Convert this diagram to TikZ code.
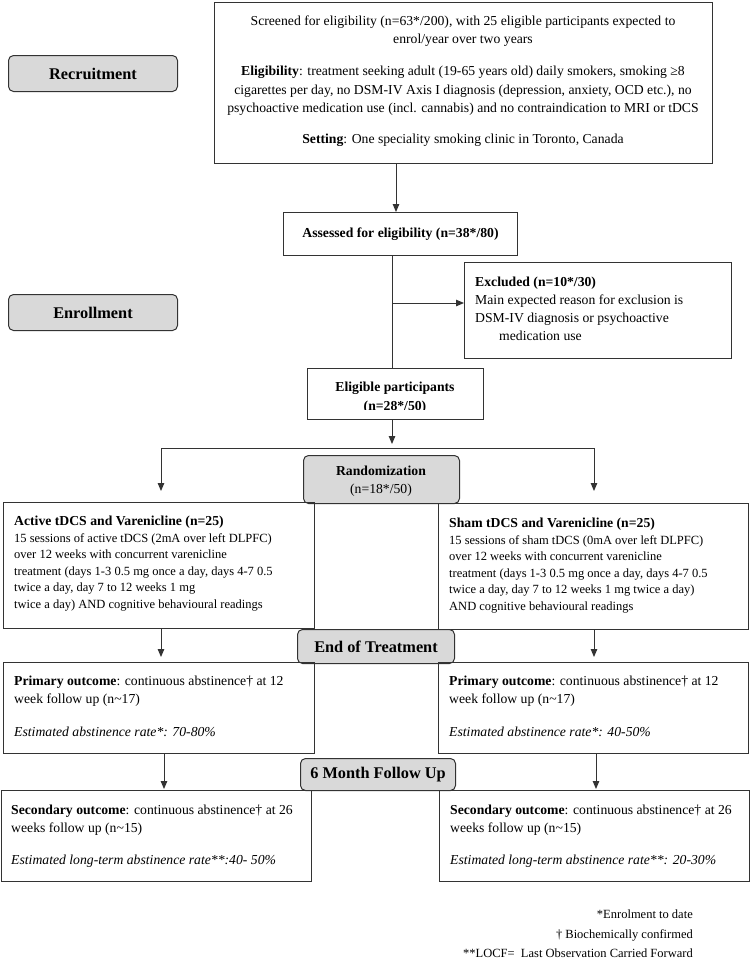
\documentclass[tikz,border=0pt]{standalone}
\usepackage{fontspec}
\setmainfont{Liberation Serif}
\usetikzlibrary{arrows.meta}
\definecolor{linec}{HTML}{333333}
\definecolor{grayf}{HTML}{D9D9D9}
\newcommand\fmain{\fontsize{13.7}{17}\selectfont}
\newcommand\fsmall{\fontsize{12.5}{15}\selectfont}
\newcommand\fbig{\fontsize{16.3}{19}\selectfont\bfseries}
\begin{document}
\begin{tikzpicture}[x=1pt,y=-1pt,
  box/.style={draw=linec, line width=1pt, inner sep=0pt, anchor=north west},
  phase/.style={box, fill=grayf, rounded corners=5pt},
  txt/.style={inner sep=0pt, anchor=base west, font=\fmain},
  ctxt/.style={inner sep=0pt, anchor=base, font=\fmain},
  stxt/.style={inner sep=0pt, anchor=base west, font=\fsmall},
  ftxt/.style={inner sep=0pt, anchor=base east, font=\fsmall},
  conn/.style={draw=linec, line width=1pt},
  arr/.style={conn, -{Triangle[length=8pt,width=6.5pt]}}]
\useasboundingbox (0,0) rectangle (750,959);

% ---- boxes
\node[phase, minimum width=169pt, minimum height=36pt, font=\fbig] (rec) at (8,55) {Recruitment};
\node[phase, minimum width=169pt, minimum height=36pt, font=\fbig] (enr) at (8,294) {Enrollment};
\node[box, minimum width=498pt, minimum height=161pt] (top) at (214,2) {};
\node[box, minimum width=234pt, minimum height=43pt, font=\fmain\bfseries] (ass) at (283,212) {Assessed for eligibility (n=38*/80)};
\node[box, minimum width=267pt, minimum height=96pt] (excl) at (464,262) {};
\node[box, minimum width=176pt, minimum height=51pt] (elig) at (307,368) {};
\node[phase, minimum width=156pt, minimum height=48pt] (rand) at (303,455) {};
\node[box, minimum width=311pt, minimum height=126pt] (tL) at (3,502) {};
\node[box, minimum width=310pt, minimum height=126pt] (tR) at (438,503) {};
\node[phase, minimum width=157pt, minimum height=34pt, font=\fbig] (eot) at (297,629) {End of Treatment};
\node[box, minimum width=311pt, minimum height=91pt] (pL) at (3,662) {};
\node[box, minimum width=310pt, minimum height=91pt] (pR) at (438,662) {};
\node[phase, minimum width=155pt, minimum height=32pt, font=\fbig] (sixm) at (300,758) {6 Month Follow Up};
\node[box, minimum width=310pt, minimum height=91pt] (sL) at (1,790) {};
\node[box, minimum width=310pt, minimum height=91pt] (sR) at (439,790) {};

% ---- top box text
\node[ctxt] (t1) at (463,25.5) {Screened for eligibility (n=63*/200), with 25 eligible participants expected to};
\node[ctxt] (t2) at (463,43.5) {enrol/year over two years};
\node[ctxt] (t3) at (463,75.5) {\textbf{Eligibility}: treatment seeking adult (19-65 years old) daily smokers, smoking ≥8};
\node[ctxt] (t4) at (463,94) {cigarettes per day, no DSM-IV Axis I diagnosis (depression, anxiety, OCD etc.), no};
\node[ctxt] (t5) at (463,112.5) {psychoactive medication use (incl. cannabis) and no contraindication to MRI or tDCS};
\node[ctxt] (t6) at (463,143.5) {\textbf{Setting}: One speciality smoking clinic in Toronto, Canada};

% ---- excluded text
\node[txt] (e1) at (475,286.5) {\textbf{Excluded (n=10*/30)}};
\node[txt] (e2) at (475,304) {Main expected reason for exclusion is};
\node[txt] (e3) at (475,322) {DSM-IV diagnosis or psychoactive};
\node[txt] (e4) at (499,340) {medication use};

% ---- eligible text (second line clipped by the box)
\node[ctxt, font=\fmain\bfseries] (g1) at (395,391.5) {Eligible participants};
\begin{scope}
\clip (307,368) rectangle (483,409);
\node[ctxt, font=\fmain\bfseries] (g2) at (395,410.5) {(n=28*/50)};
\end{scope}

% ---- randomization text
\node[ctxt, font=\fmain\bfseries] (r1) at (381,475.5) {Randomization};
\node[ctxt] (r2) at (381,493.5) {(n=18*/50)};

% ---- treatment boxes
\node[txt, font=\fmain\bfseries] (a0) at (14,525.5) {Active tDCS and Varenicline (n=25)};
\node[stxt] (a1) at (14,542) {15 sessions of active tDCS (2mA over left DLPFC)};
\node[stxt] (a2) at (14,558.6) {over 12 weeks with concurrent varenicline};
\node[stxt] (a3) at (14,575.2) {treatment (days 1-3 0.5 mg once a day, days 4-7 0.5};
\node[stxt] (a4) at (14,591.8) {twice a day, day 7 to 12 weeks 1 mg};
\node[stxt] (a5) at (14,608.4) {twice a day) AND cognitive behavioural readings};

\node[txt, font=\fmain\bfseries] (b0) at (449,527.5) {Sham tDCS and Varenicline (n=25)};
\node[stxt] (b1) at (449,544) {15 sessions of sham tDCS (0mA over left DLPFC)};
\node[stxt] (b2) at (449,560.6) {over 12 weeks with concurrent varenicline};
\node[stxt] (b3) at (449,577.2) {treatment (days 1-3 0.5 mg once a day, days 4-7 0.5};
\node[stxt] (b4) at (449,593.8) {twice a day, day 7 to 12 weeks 1 mg twice a day)};
\node[stxt] (b5) at (449,610.4) {AND cognitive behavioural readings};

% ---- primary outcome
\node[txt] (p1) at (14,685.5) {\textbf{Primary outcome}: continuous abstinence† at 12};
\node[txt] (p2) at (14,703.5) {week follow up (n\textasciitilde 17)};
\node[txt] (p3) at (14,736.5) {\textit{Estimated abstinence rate*: 70-80\%}};
\node[txt] (q1) at (449,685.5) {\textbf{Primary outcome}: continuous abstinence† at 12};
\node[txt] (q2) at (449,703.5) {week follow up (n\textasciitilde 17)};
\node[txt] (q3) at (449,736.5) {\textit{Estimated abstinence rate*: 40-50\%}};

% ---- secondary outcome
\node[txt] (s1) at (11,814.5) {\textbf{Secondary outcome}: continuous abstinence† at 26};
\node[txt] (s2) at (11,832.5) {weeks follow up (n\textasciitilde 15)};
\node[txt] (s3) at (11,864.5) {\textit{Estimated long-term abstinence rate**:40- 50\%}};
\node[txt] (u1) at (450,814.5) {\textbf{Secondary outcome}: continuous abstinence† at 26};
\node[txt] (u2) at (450,832.5) {weeks follow up (n\textasciitilde 15)};
\node[txt] (u3) at (450,864.5) {\textit{Estimated long-term abstinence rate**: 20-30\%}};

% ---- footnotes
\node[ftxt] (f1) at (693,918) {*Enrolment to date};
\node[ftxt] (f2) at (693,938) {† Biochemically confirmed};
\node[ftxt] (f3) at (693,957) {**LOCF=\ \ Last Observation Carried Forward};

% ---- connectors
\coordinate (xa) at (396,0);
\coordinate (xb) at (392,0);
\coordinate (exa) at (392,303);
\coordinate (eltip) at (392,444);
\coordinate (hl) at (161,448);
\coordinate (hr) at (594,448);
\coordinate (tipL) at (161,491);
\coordinate (tipR) at (594,491);
\coordinate (aL1) at (161,657);
\coordinate (aR1) at (594,657);
\coordinate (aL2) at (164,789);
\coordinate (aR2) at (596,789);

\draw[arr] (xa |- top.south) -- (xa |- ass.north);
\draw[conn] (xb |- ass.south) -- (xb |- elig.north);
\draw[arr] (exa) -- (exa -| excl.west);
\draw[arr] (xb |- elig.south) -- (eltip);
\draw[conn] (hl) -- (hr);
\draw[arr] (hl) -- (tipL);
\draw[arr] (hr) -- (tipR);
\draw[arr] (aL1 |- tL.south) -- (aL1);
\draw[arr] (aR1 |- tR.south) -- (aR1);
\draw[arr] (aL2 |- pL.south) -- (aL2);
\draw[arr] (aR2 |- pR.south) -- (aR2);
\end{tikzpicture}
\end{document}
